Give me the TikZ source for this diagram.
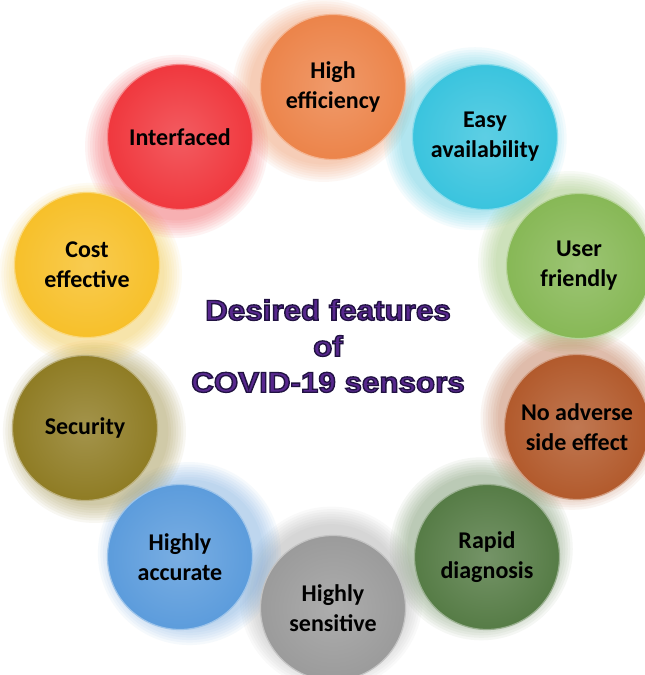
\documentclass[tikz,border=0pt]{standalone}
\usepackage{fontspec}
\newfontfamily\labelfont{Carlito}
\newfontfamily\titlefont{Liberation Sans}
\usetikzlibrary{calc,backgrounds}

\definecolor{heffcol}{RGB}{236,132,74}
\definecolor{easycol}{RGB}{58,196,222}
\definecolor{usercol}{RGB}{135,184,86}
\definecolor{noadvcol}{RGB}{178,90,44}
\definecolor{rapidcol}{RGB}{86,124,70}
\definecolor{senscol}{RGB}{155,155,155}
\definecolor{accurcol}{RGB}{92,156,220}
\definecolor{securcol}{RGB}{143,124,36}
\definecolor{costcol}{RGB}{247,192,42}
\definecolor{intercol}{RGB}{240,56,62}
\definecolor{titlecol}{RGB}{88,40,142}

\newcommand\outlinedtext[1]{\special{pdf:literal 2 Tr 1.3 w 0.13 0.07 0.26 RG}#1\special{pdf:literal 0 Tr}}

\tikzset{
  feature/.style={circle, minimum size=145pt, inner sep=0pt, align=center,
    inner color=#1!82!white, outer color=#1, draw=#1!60!white, line width=1.2pt,
    font=\labelfont\bfseries\fontsize{24}{30}\selectfont, text=black},
  heading/.style={align=center, xscale=1.1,
    font=\titlefont\bfseries\fontsize{28.5}{36}\selectfont},
}

\begin{document}
\begin{tikzpicture}[x=1pt,y=1pt]

\useasboundingbox (0,0) rectangle (645,675);

\node[feature=heffcol] (heff) at (333,588) {High\\efficiency};
\node[feature=easycol] (easy) at (485,538) {Easy\\availability};
\node[feature=usercol] (user) at (579,409) {User\\friendly};
\node[feature=noadvcol] (noadv) at (577,248) {No adverse\\side effect};
\node[feature=rapidcol] (rapid) at (487,118) {Rapid\\diagnosis};
\node[feature=senscol] (sens) at (333,67) {Highly\\sensitive};
\node[feature=accurcol] (accur) at (180,118) {Highly\\accurate};
\node[feature=securcol] (secur) at (85,247) {Security};
\node[feature=costcol] (cost) at (87,410) {Cost\\effective};
\node[feature=intercol] (inter) at (180,538) {Interfaced};

\node[heading, text=titlecol] (ttl) at (328,329)
  {\outlinedtext{Desired features}\\\outlinedtext{of}\\\outlinedtext{COVID-19 sensors}};

\begin{scope}[on background layer]
\fill[white] (0,0) rectangle (645,675);
\foreach \nd/\ang/\col in {heff/200/heffcol, easy/190/easycol, user/160/usercol,
  noadv/120/noadvcol, rapid/125/rapidcol, sens/100/senscol, accur/20/accurcol,
  secur/-20/securcol, cost/-70/costcol, inter/-110/intercol}
  \foreach \k in {0,...,7}
    \fill[\col, opacity=0.06] ($(\nd)+(\ang:10)$) circle ({74+2.5*\k});
\end{scope}

\end{tikzpicture}
\end{document}
